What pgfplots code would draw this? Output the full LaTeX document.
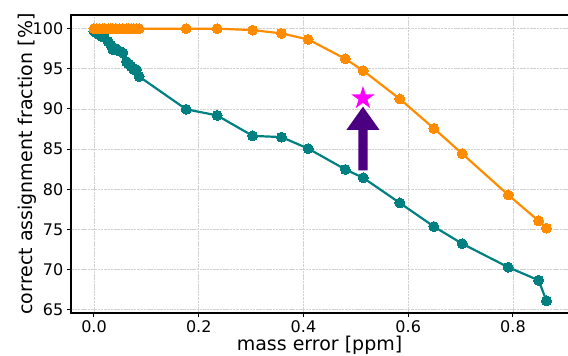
\documentclass[border=0pt]{standalone}
\usepackage{fontspec}
\setmainfont{DejaVu Sans}
\usepackage{pgfplots}
\pgfplotsset{compat=1.18}
\definecolor{cteal}{HTML}{008080}
\definecolor{corange}{HTML}{FF8C00}
\definecolor{cindigo}{HTML}{4B0082}
\definecolor{cmag}{HTML}{FF00FF}
\pgfdeclareplotmark{fstar}{%
  \pgfpathmoveto{\pgfpointpolar{90}{\pgfplotmarksize}}%
  \pgfpathlineto{\pgfpointpolar{126}{0.382\pgfplotmarksize}}%
  \pgfpathlineto{\pgfpointpolar{162}{\pgfplotmarksize}}%
  \pgfpathlineto{\pgfpointpolar{198}{0.382\pgfplotmarksize}}%
  \pgfpathlineto{\pgfpointpolar{234}{\pgfplotmarksize}}%
  \pgfpathlineto{\pgfpointpolar{270}{0.382\pgfplotmarksize}}%
  \pgfpathlineto{\pgfpointpolar{306}{\pgfplotmarksize}}%
  \pgfpathlineto{\pgfpointpolar{342}{0.382\pgfplotmarksize}}%
  \pgfpathlineto{\pgfpointpolar{18}{\pgfplotmarksize}}%
  \pgfpathlineto{\pgfpointpolar{54}{0.382\pgfplotmarksize}}%
  \pgfpathclose\pgfusepathqfill}
\begin{document}
\begin{tikzpicture}
\begin{axis}[
  name=ax,
  scale only axis,
  width=501pt, height=298pt,
  xmin=-0.0433, xmax=0.9133,
  ymin=64.6, ymax=101.7,
  xtick={0,0.2,0.4,0.6,0.8},
  ytick={65,70,75,80,85,90,95,100},
  xticklabel style={/pgf/number format/.cd, fixed, fixed zerofill, precision=1},
  /pgf/number format/assume math mode=true,
  tick label style={font=\fontsize{16}{19}\selectfont},
  label style={font=\fontsize{19}{23}\selectfont},
  xlabel={mass error [ppm]},
  ylabel={correct assignment fraction [\%]},
  xlabel style={at={(axis description cs:0.4955,-0.108)}, anchor=center},
  ylabel style={at={(axis description cs:-0.0885,0.5)}, anchor=center},
  tick align=outside,
  major tick length=4.5pt,
  tick style={black, line width=1pt},
  xtick pos=bottom, ytick pos=left,
  axis line style={black, line width=1.8pt},
  grid=major,
  major grid style={gray!35, line width=0.7pt, dash pattern=on 2.5pt off 0.8pt},
]
\addplot[cteal, line width=2.2pt, mark=*, mark size=5pt, mark options={fill=cteal, draw=cteal, line width=0pt}] coordinates {
(0.000,99.7) (0.005,99.5) (0.011,99.2) (0.016,99.0) (0.020,98.9) (0.027,98.4)
(0.032,98.0) (0.036,97.4) (0.042,97.5) (0.049,97.2) (0.055,97.0) (0.062,95.9)
(0.066,95.6) (0.071,95.3) (0.076,94.9) (0.081,94.9) (0.086,94.05)
(0.176,89.96) (0.235,89.2) (0.303,86.65) (0.358,86.5) (0.409,85.07)
(0.480,82.47) (0.514,81.43) (0.584,78.3) (0.649,75.36) (0.703,73.23)
(0.791,70.3) (0.849,68.67) (0.864,66.1)
};
\addplot[corange, line width=2.2pt, mark=*, mark size=5pt, mark options={fill=corange, draw=corange, line width=0pt}] coordinates {
(0.000,100) (0.005,100) (0.011,100) (0.016,100) (0.020,100) (0.027,100)
(0.032,100) (0.036,100) (0.042,100) (0.049,100) (0.055,100) (0.062,100)
(0.066,100) (0.071,100) (0.076,100) (0.081,100) (0.086,100)
(0.176,100) (0.235,100) (0.303,99.82) (0.358,99.41) (0.409,98.66)
(0.480,96.24) (0.514,94.77) (0.584,91.25) (0.649,87.58) (0.703,84.44)
(0.791,79.3) (0.849,76.07) (0.864,75.16)
};
\addplot[fill=cindigo, draw=none] coordinates {
(0.5047,82.35) (0.5225,82.35) (0.5225,87.4) (0.5451,87.4) (0.5136,90.29) (0.4821,87.4) (0.5047,87.4)
} -- cycle;
\addplot[only marks, mark=fstar, mark size=12.2pt, cmag, mark options={fill=cmag}] coordinates {(0.5136,91.34)};
\end{axis}
\pgfresetboundingbox
\useasboundingbox ([shift={(-71.3pt,-43pt)}]ax.south west) rectangle ([shift={(-4.3pt,15pt)}]ax.north east);
\end{tikzpicture}
\end{document}
